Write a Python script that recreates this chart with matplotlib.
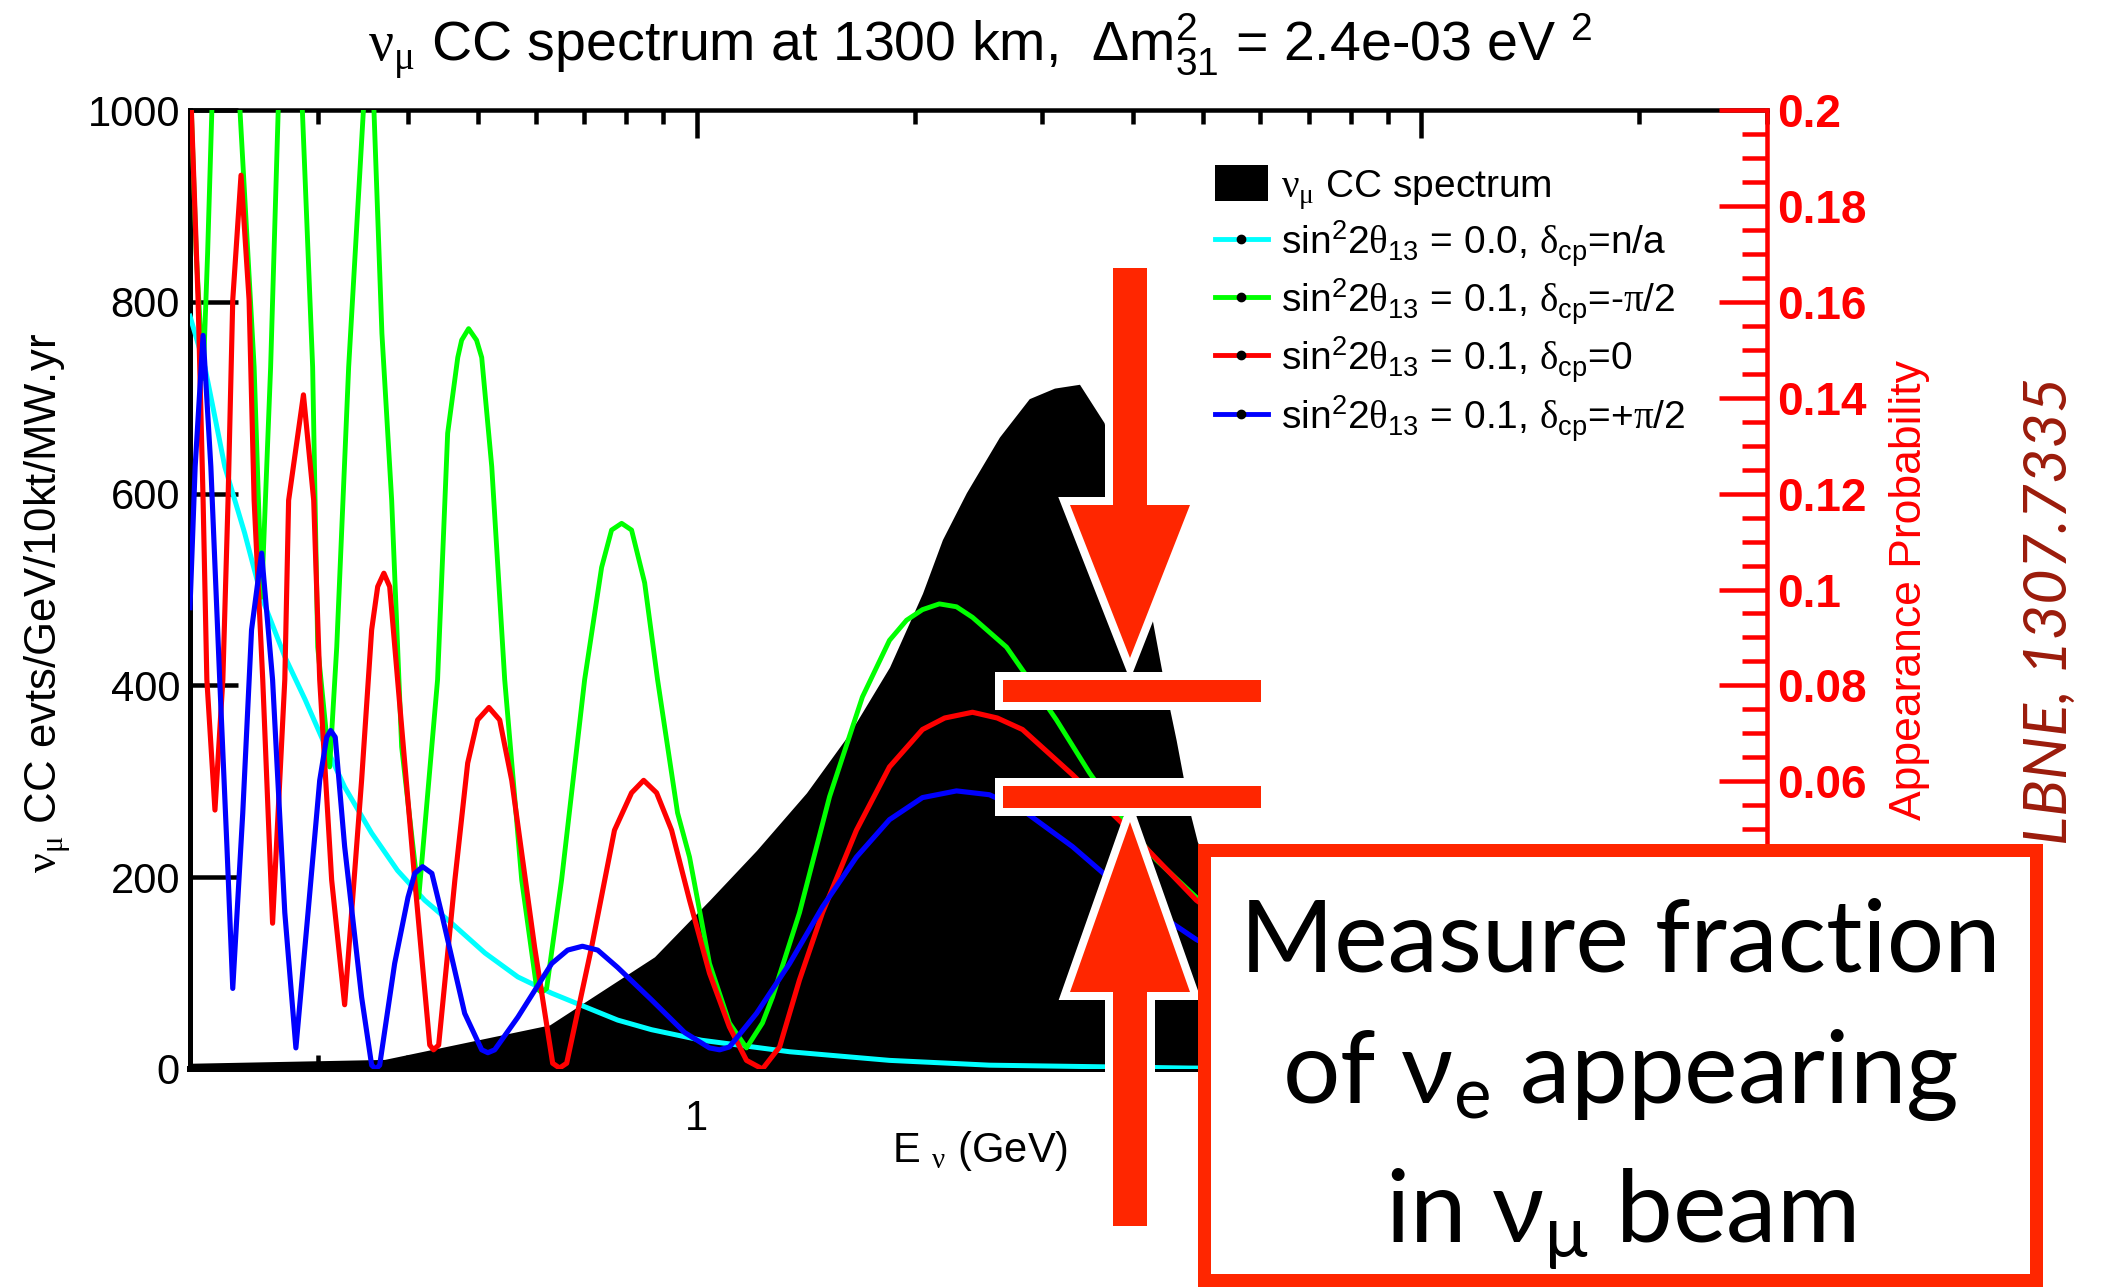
"""nu_mu CC spectrum at 1300 km with nu_e appearance curves (LBNE)."""
import matplotlib
matplotlib.use('Agg')
import matplotlib.pyplot as plt
import matplotlib.patheffects as pe
from matplotlib.patches import Patch, Polygon, Rectangle
from matplotlib.lines import Line2D
from matplotlib.ticker import FixedLocator, FixedFormatter, NullFormatter, MultipleLocator, FuncFormatter

plt.rcParams['font.family'] = ['Liberation Sans', 'DejaVu Sans']
plt.rcParams['mathtext.fontset'] = 'custom'
plt.rcParams['mathtext.rm'] = 'Liberation Sans'
plt.rcParams['mathtext.it'] = 'Liberation Sans:italic'
plt.rcParams['mathtext.bf'] = 'Liberation Sans:bold'
plt.rcParams['mathtext.sf'] = 'Liberation Serif'   # used for the greek letters
plt.rcParams['mathtext.default'] = 'rm'

# ---- data (E in GeV, values in evts/GeV/10kt/MW.yr) ----
spec_e = [0.200, 0.371, 0.627, 0.875, 1.042, 1.210, 1.418, 1.626, 1.846, 2.050, 2.184, 2.357,
          2.618, 2.878, 3.118, 3.376, 3.650, 3.950, 4.260, 4.390, 4.590, 4.790, 4.910, 5.500,
          6.500, 8.0, 10.0, 15.0, 20.0, 30.0]
spec_v = [6, 10, 46, 117, 176, 228, 288, 350, 419, 496, 552, 601,
          659, 699, 710, 714, 674, 570, 466, 413, 343, 269, 237, 150,
          60, 25, 12, 5, 3, 2]

cyan_e = [0.200, 0.2097, 0.2234, 0.2379, 0.2511, 0.2703, 0.2884, 0.3050, 0.3269, 0.3562, 0.3867,
          0.4215, 0.4593, 0.5105, 0.5668, 0.6312, 0.7008, 0.7784, 0.8667, 1.016, 1.344, 1.846,
          2.535, 4.78, 10.0, 30.0]
cyan_v = [785, 732, 628, 559, 492, 430, 385, 343, 294, 246, 207,
          176, 152, 121, 96, 79, 65, 51, 41, 30, 18, 9,
          4, 1, 0.3, 0.1]

green_e = [0.200, 0.2040, 0.2085, 0.2115, 0.2144, 0.2242, 0.2344, 0.2452, 0.2511, 0.2584, 0.2647,
           0.2750, 0.2858, 0.2953, 0.3001, 0.3117, 0.3188, 0.3311, 0.3470, 0.3528, 0.3588, 0.3680,
           0.3796, 0.3918, 0.4137, 0.4392, 0.4535, 0.4683, 0.4741, 0.4847, 0.4971, 0.5053, 0.5217,
           0.5436, 0.5738, 0.6018, 0.6111, 0.6211, 0.6513, 0.7008, 0.7396, 0.7634, 0.7882, 0.8135,
           0.8480, 0.8835, 0.9415, 0.978, 1.042, 1.110, 1.172, 1.233, 1.273, 1.387, 1.526, 1.694,
           1.846, 1.949, 2.050, 2.163, 2.284, 2.403, 2.677, 2.817, 3.138, 3.484, 3.869, 4.310,
           4.894, 7.0, 10.0, 20.0, 30.0]
green_v = [1040, 850, 720, 850, 1000, 1180, 1000, 732, 492, 732, 1000,
           1200, 1000, 732, 440, 315, 440, 732, 1000, 1030, 1000, 767,
           593, 336, 179, 406, 663, 742, 760, 772, 760, 742, 628,
           406, 197, 84, 80, 84, 197, 406, 523, 562, 569, 562,
           507, 406, 267, 221, 110, 48, 22, 48, 75, 163, 284, 388,
           447, 468, 479, 485, 482, 471, 440, 416, 364, 309, 260, 218,
           179, 100, 50, 13, 5]

red_e = [0.200, 0.2052, 0.2085, 0.2110, 0.2165, 0.2220, 0.2257, 0.2291, 0.2352, 0.2413, 0.2452,
         0.2520, 0.2600, 0.2703, 0.2736, 0.2868, 0.2963, 0.3020, 0.3137, 0.3269, 0.3450, 0.3562,
         0.3631, 0.3703, 0.3772, 0.3868, 0.4085, 0.4284, 0.4336, 0.4407, 0.4640, 0.4833, 0.4988,
         0.5170, 0.5350, 0.5559, 0.5978, 0.6331, 0.6471, 0.6619, 0.7164, 0.7705, 0.8135, 0.8453,
         0.8808, 0.9238, 0.978, 1.042, 1.110, 1.172, 1.233, 1.302, 1.387, 1.492, 1.662, 1.846,
         2.050, 2.200, 2.403, 2.600, 2.817, 3.301, 3.869, 4.894, 7.0, 10.0, 20.0, 30.0]
red_v = [1040, 802, 593, 406, 270, 406, 593, 802, 932, 802, 593,
         406, 152, 406, 593, 703, 593, 406, 197, 67, 301, 458,
         503, 517, 503, 406, 197, 25, 20, 25, 197, 319, 364,
         377, 364, 301, 127, 6, 1, 6, 127, 249, 288, 301,
         288, 249, 176, 100, 44, 9, 0, 23, 93, 163, 249, 315,
         354, 366, 372, 366, 354, 307, 256, 176, 90, 45, 12, 5]

blue_e = [0.200, 0.2033, 0.2085, 0.2137, 0.2198, 0.2249, 0.2291, 0.2365, 0.2432, 0.2511, 0.2600,
          0.2703, 0.2800, 0.2910, 0.3020, 0.3088, 0.3127, 0.3173, 0.3269, 0.3450, 0.3562, 0.3610,
          0.3654, 0.3832, 0.3998, 0.4085, 0.4188, 0.4313, 0.4446, 0.4787, 0.5053, 0.5153, 0.5266,
          0.5668, 0.6312, 0.6640, 0.6959, 0.7304, 0.778, 0.867, 0.963, 1.042, 1.076, 1.110,
          1.210, 1.344, 1.492, 1.662, 1.846, 2.050, 2.284, 2.536, 2.817, 3.301, 3.869, 4.894,
          7.0, 10.0, 20.0, 30.0]
blue_v = [481, 628, 765, 628, 406, 232, 84, 267, 458, 538, 406,
          163, 22, 163, 301, 346, 353, 346, 232, 75, 4, 0,
          4, 110, 179, 204, 211, 204, 163, 58, 20, 17, 20,
          54, 110, 124, 128, 124, 106, 72, 38, 22, 20, 23,
          58, 110, 169, 221, 260, 283, 290, 286, 270, 232, 187, 135,
          75, 40, 10, 5]

x_major = [1, 10]
x_major_labels = ['1', '']          # the "10" label sits under the text box
x_minor = [0.2, 0.3, 0.4, 0.5, 0.6, 0.7, 0.8, 0.9, 2, 3, 4, 5, 6, 7, 8, 9, 20, 30]

legend_labels = [r'$\mathsf{\nu}_{\mathsf{\mu}}$ CC spectrum',
                 r'sin$^2$2$\mathsf{\theta}_{13}$ = 0.0, $\mathsf{\delta}_{cp}$=n/a',
                 r'sin$^2$2$\mathsf{\theta}_{13}$ = 0.1, $\mathsf{\delta}_{cp}$=-$\mathsf{\pi}$/2',
                 r'sin$^2$2$\mathsf{\theta}_{13}$ = 0.1, $\mathsf{\delta}_{cp}$=0',
                 r'sin$^2$2$\mathsf{\theta}_{13}$ = 0.1, $\mathsf{\delta}_{cp}$=+$\mathsf{\pi}$/2']

W, H = 2107, 1287
RED = '#ff2600'


def fx(x):
    return x / W


def fy(y):
    return 1 - y / H


def pt(px):
    return px * 0.72


fig = plt.figure(figsize=(W / 100, H / 100), dpi=100)
ax = fig.add_axes([fx(190), fy(1069), (1767 - 190) / W, (1069 - 110) / H])

ax.fill_between(spec_e, 0, spec_v, color='black', lw=0, zorder=3)
ax.plot(cyan_e, cyan_v, color='#00ffff', lw=3.6, zorder=4)
ax.plot(green_e, green_v, color='#00ff00', lw=3.5, zorder=4)
ax.plot(red_e, red_v, color='#ff0000', lw=3.7, zorder=4)
ax.plot(blue_e, blue_v, color='#0000ff', lw=3.7, zorder=4)

ax.set_xscale('log')
ax.set_xlim(0.2, 30)
ax.set_ylim(0, 1000)

ax2 = ax.twinx()
ax2.set_ylim(0, 0.2)

ax.xaxis.set_major_locator(FixedLocator(x_major))
ax.xaxis.set_major_formatter(FixedFormatter(x_major_labels))
ax.xaxis.set_minor_locator(FixedLocator(x_minor))
ax.xaxis.set_minor_formatter(NullFormatter())
ax.tick_params(axis='x', which='both', direction='in', top=True, bottom=True, width=pt(4.5))
ax.tick_params(axis='x', which='major', length=pt(28), labelsize=30, pad=pt(30))
ax.tick_params(axis='x', which='minor', length=pt(14))
ax.yaxis.set_major_locator(MultipleLocator(200))
ax.tick_params(axis='y', which='major', direction='in', left=True, right=False, length=pt(48),
               width=pt(4.5), labelsize=30, pad=pt(10))
for side, lw in [('left', 5), ('top', 4.5), ('bottom', 6)]:
    ax.spines[side].set_linewidth(pt(lw))
ax.spines['right'].set_visible(False)

for side in ['left', 'top', 'bottom']:
    ax2.spines[side].set_visible(False)
ax2.spines['right'].set_color('red')
ax2.spines['right'].set_linewidth(pt(4.5))
ax2.yaxis.set_major_locator(MultipleLocator(0.02))
ax2.yaxis.set_minor_locator(MultipleLocator(0.005))
# labels below 0.06 are hidden by the text box in the slide
ax2.yaxis.set_major_formatter(FuncFormatter(lambda v, p: '%g' % round(v, 3) if v > 0.05 else ''))
ax2.tick_params(axis='y', which='both', direction='in', colors='red', width=pt(4.5))
ax2.tick_params(axis='y', which='major', length=pt(48), labelsize=33, pad=pt(10))
ax2.tick_params(axis='y', which='minor', length=pt(25))
for lab in ax2.get_yticklabels():
    lab.set_fontweight('bold')

handles = [Patch(facecolor='black', edgecolor='none')]
for c in ['#00ffff', '#00ff00', '#ff0000', '#0000ff']:
    handles.append(Line2D([], [], color=c, lw=3.5, marker='o', ms=6, mfc='k', mec='k'))
ax.legend(handles, legend_labels, loc='upper left', bbox_to_anchor=(fx(1215), fy(165)),
          bbox_transform=fig.transFigure, frameon=False, fontsize=28, handlelength=1.35,
          handleheight=1.05, handletextpad=0.35, labelspacing=0.2, borderpad=0, borderaxespad=0)

fig.text(fx(980), fy(46),
         r'$\mathsf{\nu}_{\mathsf{\mu}}$ CC spectrum at 1300 km,  $\Delta$m$^{2}_{31}$ = 2.4e-03 eV $^{2}$',
         ha='center', va='center', fontsize=40)
fig.text(fx(48), fy(603), r'$\mathsf{\nu}_{\mathsf{\mu}}$ CC evts/GeV/10kt/MW.yr', rotation=90,
         ha='center', va='center', fontsize=31.5)
fig.text(fx(980), fy(1162), r'E $_{\mathsf{\nu}}$ (GeV)', ha='center', va='baseline', fontsize=30)
fig.text(fx(1910), fy(590), 'Appearance Probability', rotation=90, ha='center', va='center',
         color='red', fontsize=32)
fig.text(fx(2050), fy(611), 'LBNE, 1307.7335', rotation=90, ha='center', va='center',
         color='#9b1b0b', fontsize=44, style='italic', family='Lato')


# ---- slide overlay: arrows, bars and the text box ----
def outlined(points, z):
    pts = [(fx(x), fy(y)) for x, y in points]
    under = Polygon(pts, closed=True, fc='white', ec='white', lw=pt(16), joinstyle='miter',
                    transform=fig.transFigure, zorder=z,
                    path_effects=[pe.SimplePatchShadow(offset=(2, -3), alpha=0.3), pe.Normal()])
    top = Polygon(pts, closed=True, fc=RED, ec='none', transform=fig.transFigure, zorder=z + 0.1)
    fig.add_artist(under)
    fig.add_artist(top)


outlined([(1113, 268), (1147, 268), (1147, 505), (1190, 505), (1130, 658), (1070, 505), (1113, 505)], 5)
outlined([(1113, 1226), (1147, 1226), (1147, 992), (1190, 992), (1130, 822), (1070, 992), (1113, 992)], 5)
outlined([(1003, 680), (1261, 680), (1261, 702), (1003, 702)], 5)
outlined([(1003, 786), (1261, 786), (1261, 808), (1003, 808)], 5)

box = Rectangle((fx(1204), fy(1280)), (2036 - 1204) / W, (1280 - 850) / H, fc='white', ec=RED,
                lw=pt(13), transform=fig.transFigure, zorder=6)
fig.add_artist(box)
box_lines = ['Measure fraction', r'of $\mathregular{ν_e}$ appearing', r'in $\mathregular{ν_μ}$ beam']
for txt, base in zip(box_lines, [972, 1103, 1243]):
    fig.text(fx(1620), fy(base), txt, ha='center', va='baseline', fontsize=73, family='Lato',
             zorder=7)

fig.savefig('out.png', dpi=100)
